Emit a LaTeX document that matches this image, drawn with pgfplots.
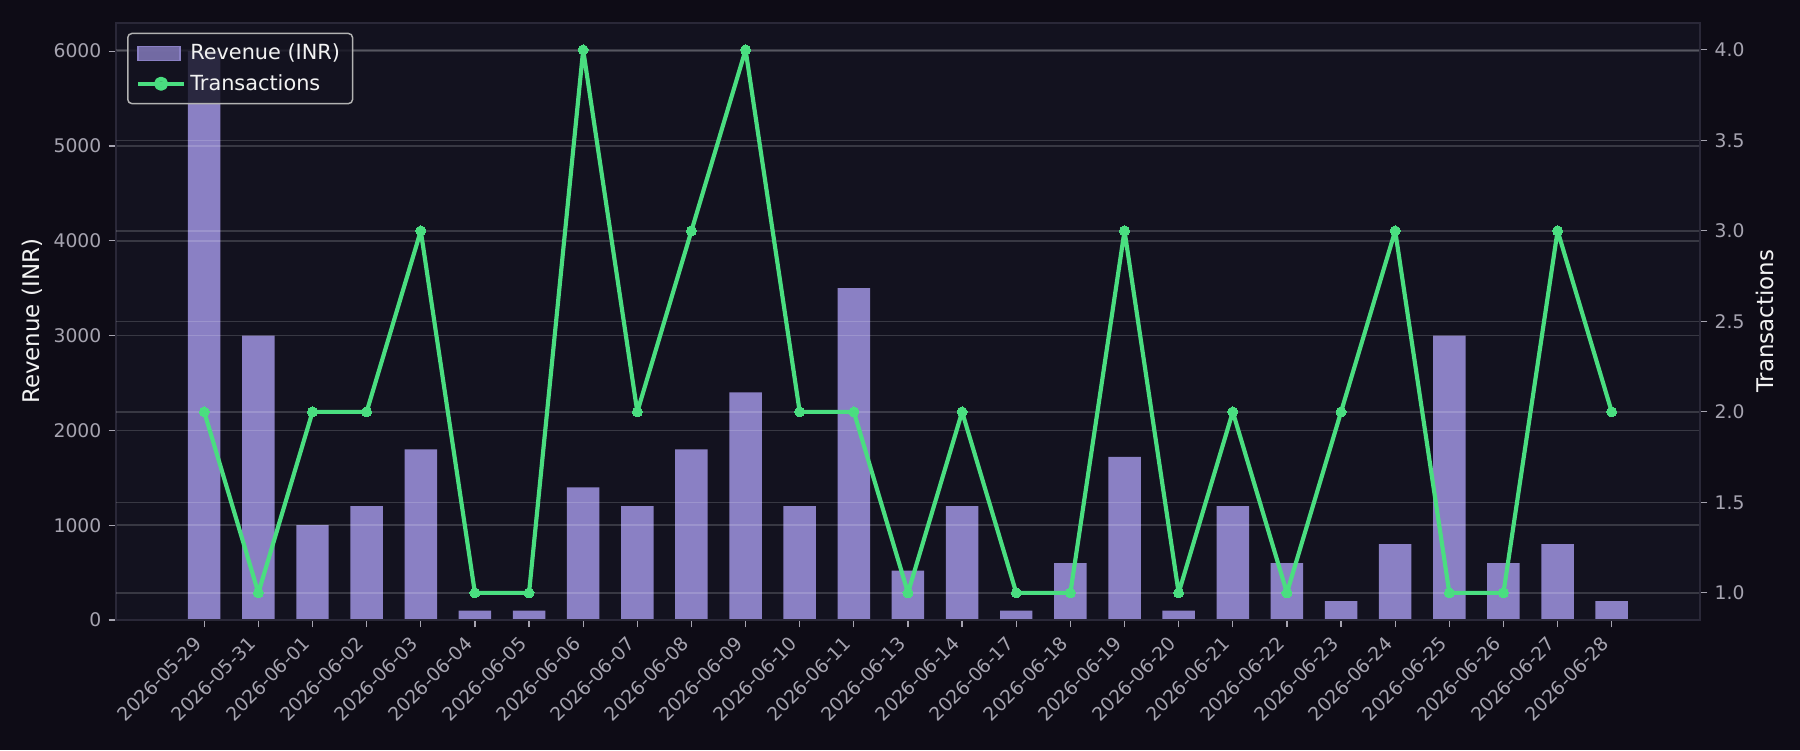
\documentclass[border=0pt]{standalone}
\usepackage{pgfplots}
\pgfplotsset{compat=1.18}
\usepackage{pgfplotstable}
\usepackage{fontspec}
\setmainfont{DejaVu Sans}
\definecolor{figbg}{HTML}{0E0C16}
\definecolor{axbg}{HTML}{13121F}
\definecolor{barcol}{HTML}{8A80C4}
\definecolor{linecol}{HTML}{4ADE80}
\definecolor{tickcol}{HTML}{A6A4B0}
\definecolor{spinecol}{HTML}{2A2838}
\definecolor{labcol}{HTML}{F2F2F2}
\pgfplotstableread{
idx rev tx
0 6000 2
1 3000 1
2 1000 2
3 1200 2
4 1800 3
5 100 1
6 100 1
7 1400 4
8 1200 2
9 1800 3
10 2400 4
11 1200 2
12 3500 2
13 520 1
14 1200 2
15 100 1
16 600 1
17 1720 3
18 100 1
19 1200 2
20 600 1
21 200 2
22 800 3
23 3000 1
24 600 1
25 800 3
26 200 2
}\data
\pgfplotsset{
  common/.style={
    at={(0,0)}, anchor=south west,
    scale only axis, width=760.3pt, height=286.7pt,
    xmin=-1.63, xmax=27.63,
    tick align=outside, major tick length=3.5pt,
    tick style={tickcol, line width=0.6pt},
    ticklabel style={font=\fontsize{9}{11}\selectfont, text=tickcol},
    /pgf/number format/assume math mode=true,
    /pgf/number format/set thousands separator={},
    grid style={white, opacity=0.16, line width=0.7pt},
    label style={font=\fontsize{11}{13}\selectfont, text=labcol},
  }
}
\begin{document}
\begin{tikzpicture}
\useasboundingbox (-55.68pt,-62.4pt) rectangle (808.32pt,297.6pt);
\fill[figbg] (-55.68pt,-62.4pt) rectangle (808.32pt,297.6pt);
\begin{axis}[common,
  axis background/.style={fill=axbg},
  axis line style={spinecol, line width=0.8pt},
  ymin=0, ymax=6300,
  ytick={0,1000,2000,3000,4000,5000,6000},
  xtick={0,...,26},
  xticklabels={2026-05-29,2026-05-31,2026-06-01,2026-06-02,2026-06-03,2026-06-04,2026-06-05,2026-06-06,2026-06-07,2026-06-08,2026-06-09,2026-06-10,2026-06-11,2026-06-13,2026-06-14,2026-06-17,2026-06-18,2026-06-19,2026-06-20,2026-06-21,2026-06-22,2026-06-23,2026-06-24,2026-06-25,2026-06-26,2026-06-27,2026-06-28},
  xticklabel style={xshift=-5.4pt, yshift=-2.2pt, rotate=45, anchor=north east, inner sep=1pt},
  xtick pos=bottom, ytick pos=left,
  ymajorgrids,
  axis on top,
  ylabel={Revenue (INR)},
  ylabel style={at={(axis description cs:-0.053,0.5)}, anchor=center, rotate=0},
]
\addplot[ybar, bar width=0.6, bar shift=0pt, fill=barcol, draw=none] table[x=idx, y=rev] {\data};
\end{axis}
\begin{axis}[common,
  axis x line=none, axis y line*=right,
  axis line style={spinecol, line width=0.8pt},
  ymin=0.85, ymax=4.15,
  ytick={1,1.5,2,2.5,3,3.5,4},
  yticklabel style={/pgf/number format/.cd, fixed, fixed zerofill, precision=1},
  ymajorgrids,
  ylabel={Transactions},
  ylabel style={at={(axis description cs:1.041,0.5)}, anchor=center},
  legend style={at={(axis description cs:0,1)}, anchor=north west,
    xshift=5.3pt, yshift=-4.8pt,
    fill=axbg, fill opacity=0.8, text opacity=1,
    draw=white!70!black, rounded corners=2pt, line width=0.7pt,
    text=labcol, font=\fontsize{10}{12}\selectfont,
    inner xsep=4pt, inner ysep=3pt, row sep=1.5pt},
  legend cell align=left,
]
\addlegendimage{legend image code/.code={\fill[barcol, sharp corners] (0pt,-3.35pt) rectangle (20pt,3.35pt);}}
\addlegendentry{Revenue (INR)}
\addplot[linecol, line width=2pt, line join=round, mark=*, mark size=2.4pt, mark options={fill=linecol, draw=linecol, line width=0pt},
  legend image code/.code={\draw[linecol, line width=2pt, sharp corners] (0pt,0pt) -- (22pt,0pt); \fill[linecol] (11pt,0pt) circle (2.4pt);}]
  table[x=idx, y=tx] {\data};
\addlegendentry{Transactions}
\end{axis}
\end{tikzpicture}
\end{document}
